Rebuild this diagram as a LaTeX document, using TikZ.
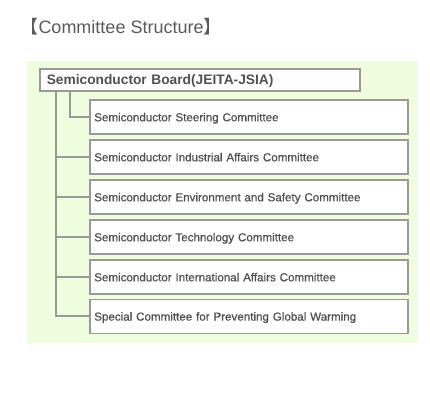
\documentclass[tikz,border=0pt]{standalone}
\usepackage{fontspec}
\setmainfont{Liberation Sans}
\newfontfamily\cjk{Noto Sans CJK JP}
\newfontfamily\semibold[FakeBold=0.7]{Liberation Sans}
\definecolor{bggreen}{RGB}{238,253,222}
\definecolor{linegray}{RGB}{153,153,153}
\definecolor{txtgray}{RGB}{80,80,80}
\definecolor{titlegray}{RGB}{90,90,90}
\tikzset{
  cbox/.style={draw=linegray, line width=1.6pt, fill=white, rectangle,
    inner xsep=4.5pt, inner ysep=0pt, text width=309.5pt, align=left,
    minimum height=34pt, text height=9.6pt, text depth=1pt,
    font=\semibold\fontsize{11.6}{13}\selectfont, text=txtgray},
  boardbox/.style={draw=linegray, line width=1.6pt, fill=white, rectangle,
    inner xsep=7pt, inner ysep=0pt, text width=306.5pt, align=left,
    minimum height=22pt, text height=10.5pt, text depth=1.4pt,
    font=\bfseries\fontsize{13.75}{15}\selectfont, text=txtgray},
  conn/.style={draw=linegray, line width=2pt},
}
\begin{document}
\begin{tikzpicture}[x=1pt,y=-1pt]
\useasboundingbox (0,0) rectangle (430,400);
\fill[bggreen] (27.3,60.5) rectangle (417.7,342.7);
\node[anchor=base west, inner sep=0pt, text=titlegray, font=\fontsize{18}{20}\selectfont] (title) at (20.3,33.3) {{\cjk 【}Committee Structure{\cjk 】}};
\node[boardbox] (board) at (200,79.75) {Semiconductor Board(JEITA-JSIA)};
\node[cbox] (steer) at (249,117) {Semiconductor Steering Committee};
\node[cbox] (ind) at (249,157) {Semiconductor Industrial Affairs Committee};
\node[cbox] (env) at (249,197) {Semiconductor Environment and Safety Committee};
\node[cbox] (tech) at (249,237) {Semiconductor Technology Committee};
\node[cbox] (intl) at (249,277) {Semiconductor International Affairs Committee};
\node[cbox] (spec) at (249,316.3) {Special Committee for Preventing Global Warming};
\coordinate (trunk) at ([xshift=17.5pt]board.south west);
\coordinate (steertop) at ([xshift=31pt]board.south west);
\draw[conn] (trunk) |- (spec.west);
\draw[conn] (steertop) |- (steer.west);
\draw[conn] (trunk |- ind.west) -- (ind.west);
\draw[conn] (trunk |- env.west) -- (env.west);
\draw[conn] (trunk |- tech.west) -- (tech.west);
\draw[conn] (trunk |- intl.west) -- (intl.west);
\end{tikzpicture}
\end{document}
